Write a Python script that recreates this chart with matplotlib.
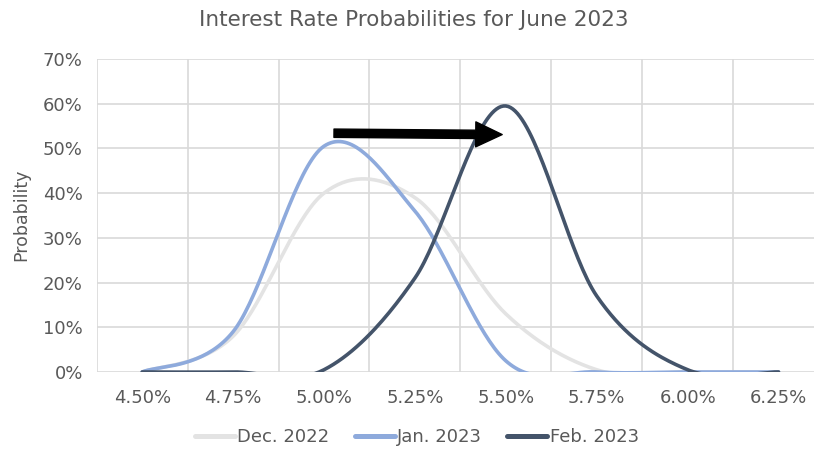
import matplotlib.pyplot as plt
import numpy as np
from matplotlib.patches import FancyArrowPatch
from matplotlib.ticker import FuncFormatter

plt.rcParams['font.family'] = ['DejaVu Sans']

rates = ['4.50%', '4.75%', '5.00%', '5.25%', '5.50%', '5.75%', '6.00%', '6.25%']
dec_2022 = [0, 8, 40, 39, 13, 0.5, 0, 0]
jan_2023 = [0, 9, 50.5, 36, 2.5, 0, 0, 0]
feb_2023 = [0, 0, 0.5, 21, 59.5, 17, 0.5, 0]

series = [("Dec. 2022", dec_2022, "#e3e3e3"),
          ("Jan. 2023", jan_2023, "#8eaadc"),
          ("Feb. 2023", feb_2023, "#44546a")]

text_color = "#595959"


def smooth(y, n=40):
    # Catmull-Rom curve through the points, like a spreadsheet "smoothed line"
    pts = np.column_stack([np.arange(len(y)), y]).astype(float)
    ext = np.vstack([pts[0], pts, pts[-1]])
    t = np.linspace(0, 1, n)[:, None]
    out = []
    for i in range(len(pts) - 1):
        p0, p1, p2, p3 = ext[i], ext[i + 1], ext[i + 2], ext[i + 3]
        seg = 0.5 * (2 * p1 + (-p0 + p2) * t
                     + (2 * p0 - 5 * p1 + 4 * p2 - p3) * t ** 2
                     + (-p0 + 3 * p1 - 3 * p2 + p3) * t ** 3)
        out.append(seg if i == 0 else seg[1:])
    s = np.vstack(out)
    return s[:, 0], s[:, 1]


fig = plt.figure(figsize=(8.14, 4.49), dpi=100)
ax = fig.add_axes([96.7 / 814, 77 / 449, (824 - 96.7) / 814, 313 / 449])

for name, vals, col in series:
    xs, ys = smooth(vals)
    ax.plot(xs, ys, color=col, lw=2.6, label=name, solid_capstyle='round')

ax.set_xlim(-0.5, len(rates) - 0.5)
ax.set_ylim(0, 70)
ax.set_xticks(range(len(rates)))
ax.set_xticklabels(rates)
ax.set_xticks(np.arange(-0.5, len(rates), 1), minor=True)
ax.set_yticks(np.arange(0, 71, 10))
ax.yaxis.set_major_formatter(FuncFormatter(lambda v, p: f"{v:.0f}%"))
ax.grid(False)
ax.grid(True, which='minor', axis='x', color='#d9d9d9', lw=1.2)
ax.grid(True, which='major', axis='y', color='#d9d9d9', lw=1.2)
ax.set_axisbelow(True)
for sp in ax.spines.values():
    sp.set_visible(False)
ax.tick_params(which='both', length=0, labelsize=13, labelcolor=text_color)
ax.tick_params(axis='y', pad=10)
ax.tick_params(axis='x', pad=12)

# shift arrow from the January peak towards the February peak
arrow = FancyArrowPatch((2.11, 53.4), (3.96, 53.1),
                        arrowstyle='simple,head_length=0.95,head_width=0.9,tail_width=0.3',
                        mutation_scale=20, color='black', shrinkA=0, shrinkB=0, zorder=5)
ax.add_patch(arrow)

fig.text(414 / 814, 1 - 20 / 449, "Interest Rate Probabilities for June 2023",
         ha='center', va='center', fontsize=15.5, color=text_color)
fig.text(21 / 814, 1 - 215 / 449, "Probability", rotation=90,
         ha='center', va='center', fontsize=12.5, color=text_color)

leg = fig.legend(loc='center', bbox_to_anchor=(417 / 814, 1 - 437 / 449), ncol=3,
                 frameon=False, fontsize=13, labelcolor=text_color,
                 handlelength=2.2, handletextpad=0.15, columnspacing=1.4,
                 borderaxespad=0, borderpad=0)
for h in leg.legend_handles:
    h.set_linewidth(3.6)

fig.savefig("out.png", dpi=100)
